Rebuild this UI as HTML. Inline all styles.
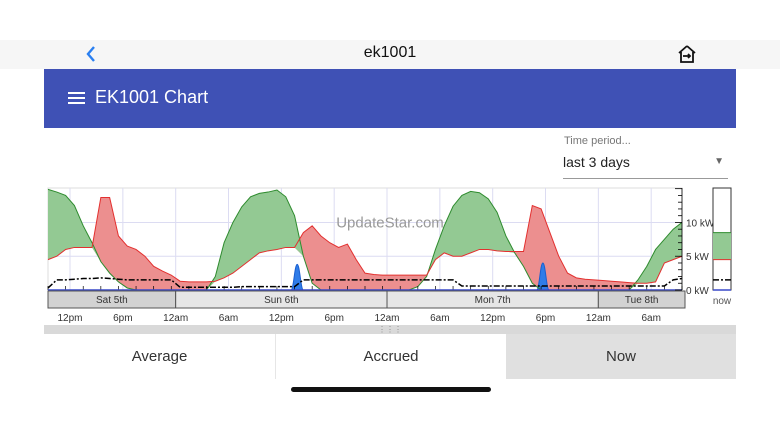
<!DOCTYPE html>
<html><head><meta charset="utf-8">
<style>
body{margin:0;width:780px;height:439px;background:#fff;font-family:"Liberation Sans",sans-serif;position:relative;overflow:hidden}
.abs{position:absolute}
</style></head><body>
<div class="abs" style="left:0;top:40px;width:780px;height:29px;background:#f6f6f6"></div>
<svg class="abs" style="left:85px;top:45px" width="12" height="18" viewBox="0 0 12 18"><path d="M9 2 L3 9 L9 16" stroke="#2a7ff0" stroke-width="2.4" fill="none"/></svg>
<div class="abs" style="left:0;width:780px;top:44px;text-align:center;font-size:16px;color:#111">ek1001</div>
<svg class="abs" style="left:677px;top:44px" width="20" height="20" viewBox="0 0 20 20"><path d="M10 2 L18 9 M10 2 L2 9 M4 8 V18 H16 V8 M6 12 H13 M11 10 L13 12 L11 14" stroke="#111" stroke-width="1.8" fill="none"/></svg>
<div class="abs" style="left:44px;top:69px;width:692px;height:59px;background:#3f51b5"></div>
<div class="abs" style="left:68px;top:92px;width:17px;height:2px;background:#fff;box-shadow:0 5px 0 #fff,0 10px 0 #fff"></div>
<div class="abs" style="left:95px;top:87px;font-size:18px;color:#fff">EK1001 Chart</div>
<div class="abs" style="left:564px;top:135px;font-size:11px;color:#777">Time period...</div>
<div class="abs" style="left:563px;top:154px;width:165px;height:24px;border-bottom:1px solid #999;font-size:14px;color:#222">last 3 days<span style="position:absolute;right:4px;top:2px;font-size:10px;color:#666">&#9660;</span></div>
<svg class="abs" style="left:0;top:180px" width="780" height="150" id="chart"></svg>
<div class="abs" style="left:44px;top:325px;width:692px;height:9px;background:#d9d9d9;text-align:center;font-size:8px;line-height:9px;color:#888">&#8942;&#8942;&#8942;</div>
<div class="abs" style="left:44px;top:334px;width:231px;height:45px;background:#fff;border-right:1px solid #e6e6e6;text-align:center;line-height:45px;font-size:15px;color:#333">Average</div>
<div class="abs" style="left:276px;top:334px;width:230px;height:45px;background:#fff;text-align:center;line-height:45px;font-size:15px;color:#333">Accrued</div>
<div class="abs" style="left:506px;top:334px;width:230px;height:45px;background:#e0e0e0;text-align:center;line-height:45px;font-size:15px;color:#333">Now</div>
<div class="abs" style="left:291px;top:387px;width:200px;height:5px;border-radius:3px;background:#111"></div>
<script>
const hours=[];for(let i=0;i<=72;i++)hours.push(i);
const generation=[14.9,14.5,14,12.5,9.5,7,4.2,2.5,1.2,0.3,0,0,0,0,0,0,0,0,0,2,7,10,12.3,13.8,14.3,14.5,14.8,13.8,11,5,1,0,0,0,0,0,0,0,0,0,0,0,0.5,2,6,9.5,12.4,14,14.6,14.4,13.5,11.5,8,5.5,3.5,1,0,0,0,0,0,0,0,0,0,0,0,1.5,3.5,6,7.5,9,10];
const usage=[4.5,5,6,6.3,6.3,6.3,13.7,13.7,8,6.5,6,5,3.5,2.8,2.2,1.3,1.2,1.2,1.2,1.3,1.8,2.5,3.5,4.5,5.5,5.8,6,6.3,6.3,8.5,9.5,8,7,6.3,6.8,4.5,2.5,2.3,2.2,2.2,2.2,2.2,2.2,2.2,4.5,5.5,5,5,5.5,6,6,5.8,5.7,5.7,5.7,12.5,12,8.5,5,2.5,1.8,1.6,1.5,1.4,1.3,1.2,1.1,1,1,1.2,4,4.5,5];
const baseline=[0.3,1.5,1.5,1.6,1.7,1.7,1.8,1.7,1.6,1.5,1.5,1.5,1.5,1.5,1.5,0.4,0.4,0.4,0.4,0.4,0.4,0.4,0.5,0.5,0.5,0.5,0.5,0.5,0.5,1.5,1.5,1.5,1.5,1.5,1.5,1.5,1.5,1.5,1.5,1.5,1.5,1.5,1.5,1.5,1.5,1.5,1.5,0.6,0.6,0.6,0.6,0.6,0.6,0.6,0.6,0.6,0.6,0.6,0.6,0.6,0.6,0.6,0.6,0.6,0.6,0.6,0.6,0.6,0.6,0.6,0.6,1.5,1.7];
const spikeHours=[28.3,56.2];
const spikeValues=[3.8,4];
const yTicks=[0,5,10];
const yTickLabels=["0 kW","5 kW","10 kW"];
const dayLabels=["Sat 5th","Sun 6th","Mon 7th","Tue 8th"];
const dayStarts=[-14.5,0,24,48];
const timeLabels=["12pm","6pm","12am","6am","12pm","6pm","12am","6am","12pm","6pm","12am","6am"];
const nowValues={gen:8.5,use:4.5,base:1.5};
const NS="http://www.w3.org/2000/svg",svg=document.getElementById('chart');
const X0=48,X1=682,T=180,Y0=290-T,YT=188-T,KMAX=15.1;
const x=h=>X0+h*(X1-X0)/72;
const y=v=>Y0-v*(Y0-YT)/KMAX;
const hx=t=>x(t+14.5);
function el(tag,a,name,parent){const e=document.createElementNS(NS,tag);for(const k in a)e.setAttribute(k,a[k]);


(parent||svg).appendChild(e);return e;}
el('rect',{x:X0,y:YT,width:X1-X0,height:Y0-YT,fill:'#fff',stroke:'#ddd'},'plot-area');
for(let t=-12;t<=57;t+=6){el('line',{x1:hx(t),x2:hx(t),y1:YT,y2:Y0,stroke:'#dcdcf2','stroke-width':1},'v-grid-line');}
yTicks.slice(1).forEach(v=>el('line',{x1:X0,x2:X1,y1:y(v),y2:y(v),stroke:'#dcdcf2'},'h-grid-line'));
const lower=usage.map((u,i)=>Math.min(u,generation[i]));
function band(top){let d='';top.forEach((v,i)=>d+=(i?'L':'M')+x(hours[i])+','+y(v));for(let i=lower.length-1;i>=0;i--)d+='L'+x(hours[i])+','+y(lower[i]);return d+'Z';}
function line(vals){return vals.map((v,i)=>(i?'L':'M')+x(hours[i])+','+y(v)).join('');}
el('path',{d:band(usage),fill:'#ec8f8f'},'usage-excess-fill');
el('path',{d:band(generation),fill:'#93c993'},'generation-excess-fill');
el('text',{x:390,y:y(10)+5,'font-size':15,fill:'#999','text-anchor':'middle'},'watermark').textContent='UpdateStar.com';
spikeHours.forEach((h,i)=>{const v=spikeValues[i];el('path',{d:`M${x(h-0.7)},${y(0)} C${x(h-0.4)},${y(0)} ${x(h-0.3)},${y(v)} ${x(h)},${y(v)} C${x(h+0.3)},${y(v)} ${x(h+0.4)},${y(0)} ${x(h+0.7)},${y(0)}Z`,fill:'#2f7ce8',stroke:'#1a5fd0'},'battery-spike');});
el('path',{d:line(generation),fill:'none',stroke:'#2e8b2e','stroke-width':1},'generation-line');
el('path',{d:line(usage),fill:'none',stroke:'#e3302f','stroke-width':1},'usage-line');
el('path',{d:line(baseline),fill:'none',stroke:'#000','stroke-width':1.5,'stroke-dasharray':'6,2,2,2'},'baseline-line');
for(let h=0;h<=72;h+=2)el('line',{x1:x(h),x2:x(h),y1:Y0,y2:Y0-4,stroke:'#000','stroke-width':0.7},'x-tick');
el('line',{x1:X0,x2:X1,y1:Y0,y2:Y0,stroke:'#3949c8','stroke-width':1.5},'zero-line');
for(let v=0;v<=15;v++)el('line',{x1:X1-(v%5?4:7),x2:X1,y1:y(v),y2:y(v),stroke:'#000','stroke-width':0.8},'y-tick');
el('line',{x1:X1,x2:X1,y1:YT,y2:Y0,stroke:'#000','stroke-width':0.8},'y-axis');
yTicks.forEach((v,i)=>{const t=el('text',{x:X1+4,y:y(v)+4,'font-size':10,fill:'#333'},'y-tick-label');t.textContent=yTickLabels[i];});
dayLabels.forEach((d,i)=>{const a=Math.max(X0,hx(dayStarts[i])),b=i<3?hx(dayStarts[i+1]):X1+3;
el('rect',{x:a,y:111,width:b-a,height:17,fill:(i==0||i==3)?'#d2d2d2':'#e6e6e6',stroke:'#555'},'day-band');
const t=el('text',{x:(a+b)/2,y:123,'font-size':10,fill:'#333','text-anchor':'middle'},'day-label');t.textContent=d;});
timeLabels.forEach((l,i)=>{const t=el('text',{x:hx(-12+i*6),y:141,'font-size':10,fill:'#333','text-anchor':'middle'},'time-label');t.textContent=l;});
const NX=713,NW=18;
el('rect',{x:NX,y:YT,width:NW,height:Y0-YT,fill:'#fff',stroke:'#333'},'now-box');
el('rect',{x:NX,y:y(nowValues.gen),width:NW,height:y(nowValues.use)-y(nowValues.gen),fill:'#93c993'},'now-generation-fill');
el('line',{x1:NX,x2:NX+NW,y1:y(nowValues.gen),y2:y(nowValues.gen),stroke:'#2e8b2e'},'now-generation-line');
el('line',{x1:NX,x2:NX+NW,y1:y(nowValues.use),y2:y(nowValues.use),stroke:'#e3302f'},'now-usage-line');
el('line',{x1:NX,x2:NX+NW,y1:y(nowValues.base),y2:y(nowValues.base),stroke:'#000','stroke-width':1.5,'stroke-dasharray':'6,2,2,2'},'now-baseline-line');
el('line',{x1:NX,x2:NX+NW,y1:Y0,y2:Y0,stroke:'#3949c8','stroke-width':1.5},'now-zero-line');
el('text',{x:NX+NW/2,y:124,'font-size':10,fill:'#555','text-anchor':'middle'},'now-label').textContent='now';
</script>
</body></html>
